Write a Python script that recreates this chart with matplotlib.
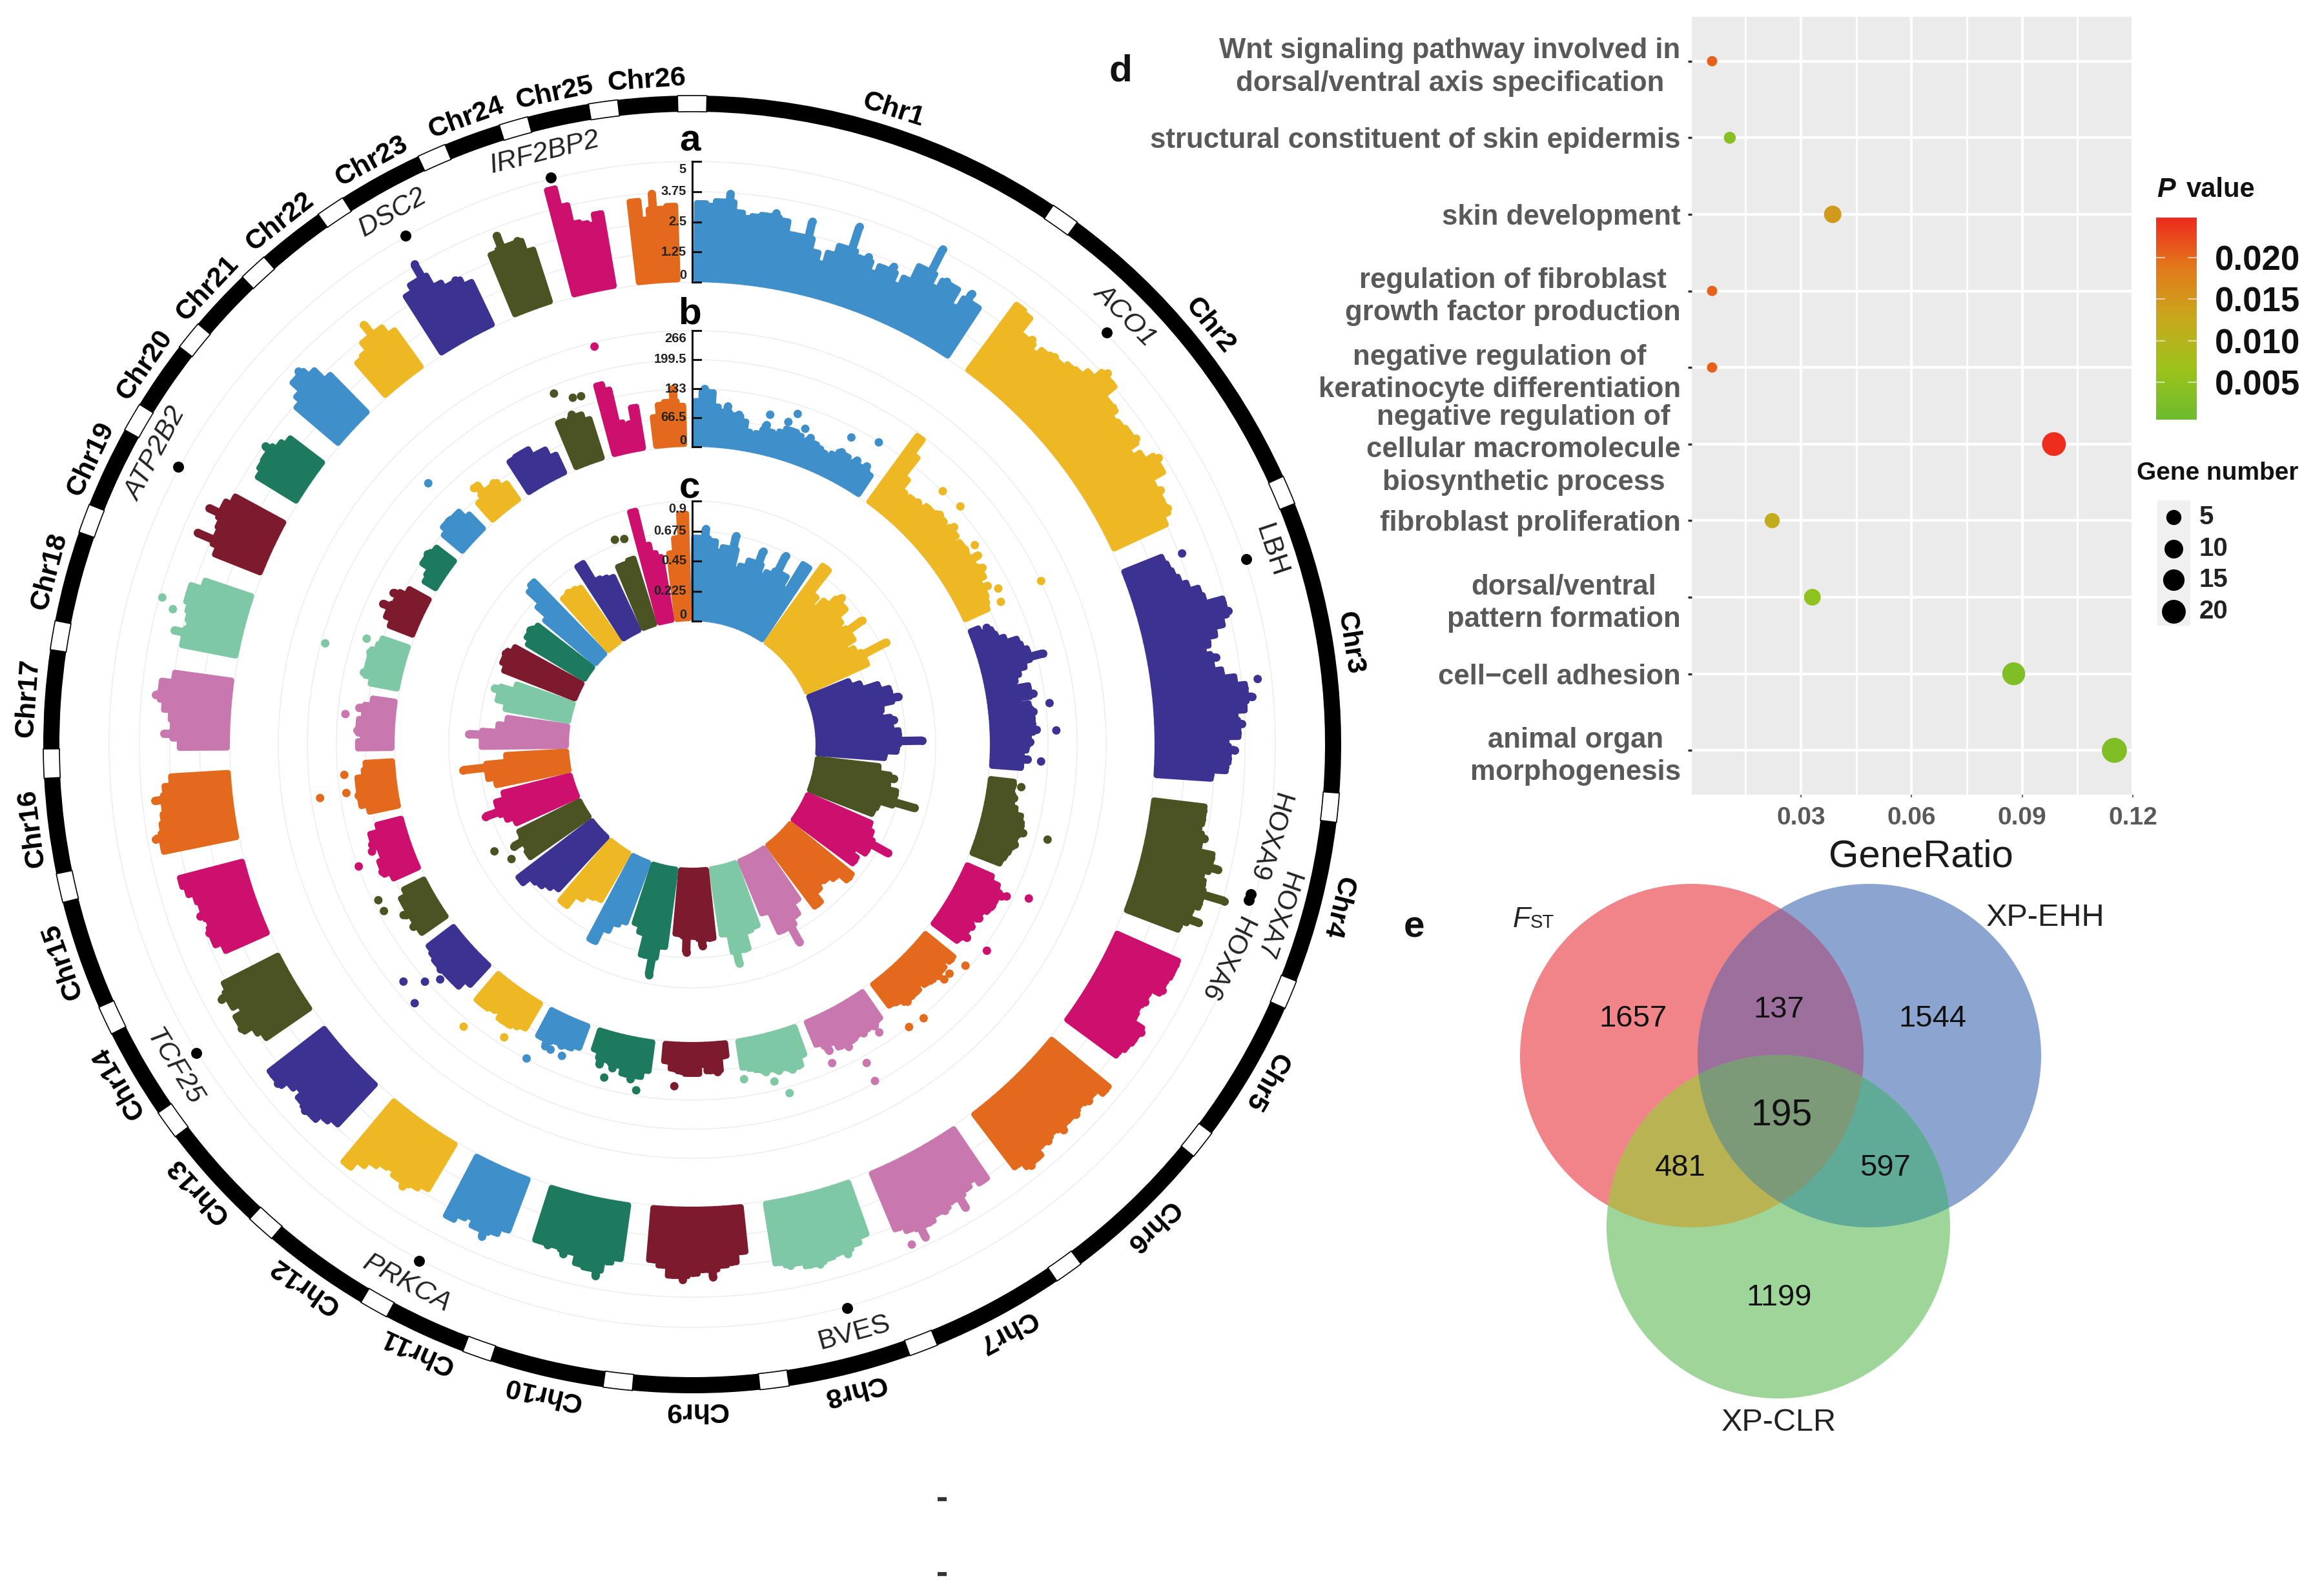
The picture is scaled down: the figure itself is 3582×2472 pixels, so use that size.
import numpy as np
import matplotlib
matplotlib.use('Agg')
import matplotlib.pyplot as plt
from matplotlib.colors import LinearSegmentedColormap
from matplotlib.patches import Circle, Polygon, Rectangle

plt.rcParams['font.family'] = ['Liberation Sans', 'DejaVu Sans']

W, H = 3582, 2472
CX, CY = 1072, 1153   # centre of the circular plot, in pixels

chr_names = ['Chr%d' % i for i in range(1, 27)]
# angle (deg clockwise from top) of the white block closing each chromosome
chr_ends = [35.1, 66.9, 95.6, 112.7, 128.1, 144.5, 159.1, 172.7, 186.6, 199.4, 209.4, 221.7, 234.1,
            244.8, 257.2, 268.3, 279.7, 290.4, 300.3, 309.1, 317.4, 326.1, 336.3, 344.0, 352.1, 360.0]
palette = ['#3F8FCB', '#EDB823', '#3C3291', '#4B5323', '#CD0F6D', '#E36A1C', '#C878AE', '#7FC8A6', '#7E1A2E', '#1E7A5E']

# peak heights per chromosome, percent of the track's axis maximum
track_a = [
    [68, 66, 70, 78, 62, 58, 60, 62, 66, 60, 50, 50, 65, 40, 32, 42, 50, 71, 46, 50, 38, 45, 50, 36, 44, 58, 80, 48, 58, 56, 42, 60, 52],
    [72, 70, 55, 58, 50, 56, 60, 58, 62, 64, 70, 82, 78, 66, 67, 60, 62, 64, 67, 55, 62, 74, 70, 58, 62, 58, 60, 52],
    [38, 40, 42, 45, 50, 58, 60, 75, 78, 70, 62, 55, 50, 60, 55, 62, 72, 80, 86, 78, 70, 76, 72, 62, 70, 64, 62, 50],
    [47, 47, 45, 52, 48, 60, 68, 55, 58, 80, 60, 55, 65, 50],
    [60, 60, 58, 60, 50, 52, 48, 50, 62, 60, 58, 55],
    [66, 60, 62, 58, 62, 60, 64, 58, 62, 60, 66, 68, 60],
    [54, 48, 52, 66, 55, 60, 58, 62, 72, 60, 55],
    [50, 55, 62, 58, 60, 64, 62, 58, 60, 55],
    [42, 50, 52, 62, 55, 58, 64, 60, 52, 48],
    [50, 54, 68, 62, 60, 52, 56, 50, 52, 50],
    [50, 56, 64, 58, 52, 55, 60],
    [48, 52, 58, 54, 50, 52, 56, 62, 70],
    [50, 54, 60, 62, 58, 52, 56, 64, 62],
    [48, 52, 62, 60, 52, 58, 64, 55],
    [42, 48, 50, 46, 52, 48, 50, 55, 58],
    [66, 72, 64, 62, 60, 68, 58, 52],
    [44, 58, 50, 52, 58, 67, 62, 52],
    [50, 60, 48, 50, 52, 55, 55, 45],
    [45, 66, 50, 52, 66, 55, 50],
    [42, 45, 46, 52, 42, 38],
    [50, 56, 66, 70, 60, 48],
    [40, 42, 50, 62, 50, 42],
    [60, 66, 80, 55, 50, 52, 44],
    [58, 72, 60, 62, 50],
    [94, 78, 62, 60, 58, 66],
    [72, 56, 78, 64, 66],
]
track_b = [
    [42, 54, 50, 38, 34, 40, 32, 34, 28, 20, 18, 20, 30, 24, 22, 26, 30, 30, 28, 24, 30, 26, 24, 22, 20, 24, 30, 28, 24, 30, 26, 30, 24],
    [75, 60, 40, 30, 28, 30, 32, 30, 34, 34, 38, 36, 32, 40, 36, 30, 35, 36, 34, 42, 34, 40, 36, 30, 36, 30, 28, 26],
    [12, 22, 24, 30, 40, 42, 46, 59, 40, 34, 30, 28, 40, 44, 30, 38, 42, 40, 40, 44, 36, 38, 34, 30, 36, 30],
    [25, 24, 28, 26, 30, 36, 38, 42, 36, 38, 34, 32, 30],
    [28, 36, 44, 40, 40, 38, 34, 36, 30, 34, 32, 36, 30],
    [36, 32, 36, 38, 36, 34, 30, 34, 34, 36, 30, 28],
    [32, 36, 34, 36, 34, 36, 40, 36, 30, 36, 26],
    [30, 38, 40, 36, 38, 34, 36, 32, 30, 28],
    [16, 30, 28, 22, 30, 30, 28, 26, 20],
    [30, 36, 40, 36, 30, 34, 28, 34, 22],
    [25, 28, 30, 28, 36, 30],
    [30, 30, 35, 35, 30, 32, 34, 34],
    [28, 36, 36, 36, 38, 36, 34, 32],
    [30, 34, 30, 34, 30, 30, 24],
    [28, 36, 34, 30, 30, 36, 34, 26],
    [30, 36, 38, 36, 36, 30, 28],
    [34, 30, 36, 34, 30, 36, 24],
    [28, 37, 34, 34, 36, 30, 28],
    [26, 32, 40, 30, 36, 24],
    [16, 18, 26, 28, 24],
    [26, 31, 32, 30, 30, 22],
    [24, 37, 28, 30, 22],
    [36, 37, 37, 30, 30, 22],
    [46, 44, 50, 46, 40],
    [66, 60, 30, 24, 28, 41],
    [30, 40, 42, 54, 38],
]
track_c = [
    [72, 81, 70, 62, 66, 78, 50, 54, 60, 72, 52, 56, 76, 60, 50, 76],
    [84, 60, 52, 62, 75, 70, 60, 56, 76, 60, 50, 56, 83, 60],
    [40, 48, 62, 70, 77, 60, 58, 70, 66, 72, 92, 70, 60],
    [56, 71, 66, 74, 93, 62, 60],
    [62, 66, 87, 70, 60, 66],
    [71, 62, 58, 56, 60, 69],
    [56, 66, 88, 72, 52],
    [60, 62, 76, 87, 60],
    [62, 69, 60, 74, 58],
    [70, 96, 80, 62, 56],
    [58, 62, 70, 83],
    [50, 52, 58, 70],
    [64, 68, 72, 74, 82],
    [64, 62, 72, 61],
    [60, 66, 83, 70, 62],
    [66, 72, 93, 55],
    [75, 87, 62, 55],
    [58, 66, 72, 54],
    [68, 72, 74, 68],
    [60, 64, 66, 62],
    [60, 72, 86, 89],
    [62, 64, 62, 60],
    [76, 58, 56, 54],
    [60, 60, 62],
    [100, 70, 62, 58],
    [60, 72, 92],
]
# detached points: angle in degrees, height in percent of axis maximum
a_dot_theta = [68.7, 83.4, 285.5, 284.6, 156.3]
a_dot_pct = [56, 92, 76, 65, 73]
b_dot_theta = [13.3, 16.6, 17.7, 19.7, 27.4, 31.7, 44.7, 48.4, 54.8, 63.0, 64.9, 65.2, 68.4, 83.4, 87.8, 92.8,
               97.4, 105.0, 114.6, 115.8, 125.0, 129.0, 131.7, 133.0, 139.8, 142.5, 147.0, 151.5, 151.3, 156.3,
               164.4, 166.3, 171.2, 183.0, 189.2, 194.8, 202.7, 204.9, 207.8, 211.9, 212.7, 219.0, 227.0, 227.0,
               228.4, 230.6, 239.4, 241.6, 243.6, 249.9, 251.5, 261.8, 262.0, 265.0, 275.0, 285.4, 288.0, 314.7,
               319.6, 338.5, 341.0, 342.3, 346.2]
b_dot_pct = [39, 37, 46, 36, 45, 53, 54, 56, 45, 43, 79, 40, 20, 57, 61, 48,
             33, 64, 66, 48, 57, 50, 44, 44, 56, 54, 43, 77, 60, 47,
             59, 46, 39, 42, 49, 44, 38, 37, 53, 33, 47, 60, 74, 44,
             55, 69, 36, 49, 49, 53, 38, 71, 48, 48, 47, 75, 42, 67,
             37, 72, 63, 62, 100]
c_dot_theta = [339.3, 341.7, 241.6, 237.6]
c_dot_pct = [83, 81, 88, 79]
# inner radius and height of each track, pixels
track_r0 = [716, 461, 191]
track_h = [187, 180, 186]
track_ticks = [['0', '1.25', '2.5', '3.75', '5'], ['0', '66.5', '133', '199.5', '266'], ['0', '0.225', '0.45', '0.675', '0.9']]
track_letters = ['a', 'b', 'c']
letter_y = [219, 487, 756]

genes = ['IRF2BP2', 'DSC2', 'ATP2B2', 'ACO1', 'LBH', 'BVES', 'PRKCA', 'TCF25']
gene_theta = [-14.0, -29.4, -61.6, 45.2, 71.5, 164.6, 207.9, 238.1]
gene_rot = [14, 29.5, 62, -45, -71.5, 15.3, -28, -58]
gene_style = ['italic', 'italic', 'italic', 'italic', 'normal', 'normal', 'italic', 'italic']
hox_genes = ['HOXA9', 'HOXA7', 'HOXA6']
hox_theta = [105.0, 105.6]

# enrichment dot plot
go_terms = ['Wnt signaling pathway involved in\ndorsal/ventral axis specification',
            'structural constituent of skin epidermis', 'skin development',
            'regulation of fibroblast\ngrowth factor production',
            'negative regulation of\nkeratinocyte differentiation',
            'negative regulation of\ncellular macromolecule\nbiosynthetic process',
            'fibroblast proliferation', 'dorsal/ventral\npattern formation',
            'cell\u2212cell adhesion', 'animal organ\nmorphogenesis']
gene_ratio = [0.0059, 0.0107, 0.0386, 0.0059, 0.0059, 0.0986, 0.0222, 0.0331, 0.0877, 0.115]
p_value = [0.0205, 0.004, 0.0145, 0.0205, 0.0205, 0.0245, 0.012, 0.005, 0.003, 0.003]
gene_count = [1, 2, 8, 1, 1, 20, 5, 7, 18, 23]
p_colors = ['#6CBB2E', '#9CC31A', '#C8A81C', '#E27A1B', '#EE2A1E']
size_legend = [5, 10, 15, 20]

# venn diagram
venn_counts = ['1657', '137', '1544', '195', '481', '597', '1199']
venn_xy = [(2529, 1578), (2755, 1564), (2993, 1578), (2759, 1728), (2602, 1809), (2920, 1809), (2755, 2010)]
venn_centres = [(2620, 1635), (2895, 1635), (2754, 1900)]
venn_colors = ['#F08488', '#8CA4D0', '#9ED69A']
venn_pairs = [(0, 1), (0, 2), (1, 2)]
venn_pair_colors = ['#9C6F9C', '#B9B354', '#5FAB97']
venn_triple_color = '#7C9A78'
VENN_R = 266


def dot_size(d_px):
    return (d_px * 0.72) ** 2


def gene_d(n):
    return 10 + 6 * np.sqrt(n)


def venn_region(ids):
    # outline of the convex overlap of the circles in ids
    pts = []
    t = np.linspace(0, 2 * np.pi, 1440, endpoint=False)
    for i in ids:
        x = venn_centres[i][0] + VENN_R * np.cos(t)
        y = venn_centres[i][1] + VENN_R * np.sin(t)
        keep = np.ones_like(t, dtype=bool)
        for j in ids:
            if j != i:
                keep &= np.hypot(x - venn_centres[j][0], y - venn_centres[j][1]) <= VENN_R
        pts.append(np.column_stack([x[keep], y[keep]]))
    pts = np.vstack(pts)
    c = pts.mean(axis=0)
    return pts[np.argsort(np.arctan2(pts[:, 1] - c[1], pts[:, 0] - c[0]))]


fig = plt.figure(figsize=(W / 100, H / 100), dpi=100, facecolor='white')

# circular part, radii are in pixels
RM = 1010
ax = fig.add_axes([(CX - RM) / W, (H - CY - RM) / H, 2 * RM / W, 2 * RM / H], projection='polar')
ax.set_theta_zero_location('N')
ax.set_theta_direction(-1)
ax.set_rlim(0, RM)
ax.set_axis_off()

circle_t = np.linspace(0, 2 * np.pi, 721)
for r0, rh in zip(track_r0, track_h):
    for k in range(5):
        ax.plot(circle_t, np.full(721, r0 + rh * k / 4), color='#EDEDED', lw=1.1, zorder=1)

starts = [0.0] + chr_ends[:-1]
for i, (s, e) in enumerate(zip(starts, chr_ends)):
    ax.bar(np.radians((s + e) / 2), 25, width=np.radians(e - s - 2.6), bottom=980, color='black', lw=0, zorder=3)
    ax.bar(np.radians(e), 25, width=np.radians(2.6), bottom=980, facecolor='white', edgecolor='black', lw=1.2, zorder=3)

dot = 13
stroke = 9
track_margin = [0.3, 0.0, 0.0]
for heights, r0, rh, mg in zip([track_a, track_b, track_c], track_r0, track_h, track_margin):
    for i, vals in enumerate(heights):
        col = palette[i % 10]
        lo = starts[i] + 1.0 + mg
        hi = chr_ends[i] - 1.5 - mg
        if i == 0:
            lo = 0.5
        n = len(vals)
        w = (hi - lo) / n
        th = np.radians(lo + w * (np.arange(n) + 0.5))
        tops = np.array(vals) / 100 * rh
        # columns stand full width only up to what a neighbour also reaches; above that a thin finger
        nb = np.array([max(tops[max(j - 1, 0)], tops[min(j + 1, n - 1)]) for j in range(n)])
        body = np.minimum(tops, nb)
        ax.bar(th, np.maximum(body - stroke, 1), width=np.radians(w), bottom=r0 + stroke / 2, color=col,
               edgecolor=col, lw=stroke * 0.72, joinstyle='round', zorder=2)
        ax.vlines(th, r0 + body * 0.6, r0 + tops - dot / 2, colors=col, lw=dot * 0.72, zorder=2)
        ax.scatter(th, r0 + tops - dot / 2, s=dot_size(dot), color=col, lw=0, zorder=2)

for dth, dpc, r0, rh in zip([a_dot_theta, b_dot_theta, c_dot_theta], [a_dot_pct, b_dot_pct, c_dot_pct], track_r0, track_h):
    chr_idx = np.searchsorted(chr_ends, dth)
    ax.scatter(np.radians(dth), r0 + np.array(dpc) / 100 * rh - dot / 2, s=dot_size(dot),
               c=[palette[k % 10] for k in chr_idx], lw=0, zorder=2)

ax.scatter(np.radians(gene_theta), np.full(len(gene_theta), 905), s=dot_size(17), color='black', lw=0, zorder=4)
ax.scatter(np.radians(hox_theta), np.full(2, 895), s=dot_size(17), color='black', lw=0, zorder=4)

# overlay in image pixels for all the loose text
ov = fig.add_axes([0, 0, 1, 1], facecolor='none')
ov.set_xlim(0, W)
ov.set_ylim(H, 0)
ov.set_axis_off()


def polar_xy(theta, r):
    t = np.radians(theta)
    return CX + r * np.sin(t), CY - r * np.cos(t)


for name, s, e in zip(chr_names, starts, chr_ends):
    mid = (s + e) / 2
    x, y = polar_xy(mid, 1031)
    ov.text(x, y, name, rotation=-mid, rotation_mode='anchor', ha='center', va='center',
            fontsize=31, fontweight='bold', color='black')

for g, t, rot, st in zip(genes, gene_theta, gene_rot, gene_style):
    x, y = polar_xy(t, 945)
    ov.text(x, y, g, rotation=rot, rotation_mode='anchor', ha='center', va='center',
            fontsize=31, style=st, color='#222222')
for g, x, y, rot in zip(hox_genes, [1965, 1977, 1898], [1297, 1418, 1485], [-107, -109, -116]):
    ov.text(x, y, g, rotation=rot, rotation_mode='anchor', ha='center', va='center',
            fontsize=30, color='#222222')

# the bracket axes of tracks a, b, c
for r0, rh, labs, letter, ly in zip(track_r0, track_h, track_ticks, track_letters, letter_y):
    y0, y1 = CY - r0, CY - r0 - rh
    ov.plot([CX, CX], [y0, y1], color='#111111', lw=2.2, zorder=5)
    for k, lab in enumerate(labs):
        yt = y0 - rh * k / 4
        ov.plot([CX, CX + 13], [yt, yt], color='#111111', lw=2.2, zorder=5)
        off = {0: -10, 4: 12}.get(k, 0)
        ov.text(CX - 9, yt + off, lab, ha='right', va='center', fontsize=14.5, fontweight='bold', color='#222222', zorder=5)
    ov.text(CX - 4, ly, letter, ha='center', va='center', fontsize=42, fontweight='bold', color='black', zorder=5)

ov.plot([1452, 1466], [2322, 2322], color='#333333', lw=4.5, solid_capstyle='butt')
ov.plot([1452, 1466], [2438, 2438], color='#333333', lw=4.5, solid_capstyle='butt')

# panel d
axd = fig.add_axes([2620 / W, 1 - 1231 / H, 683 / W, 1205 / H], facecolor='#EBEBEB')
cmap = LinearSegmentedColormap.from_list('pv', p_colors)
ypos = np.arange(len(go_terms))
sc = axd.scatter(gene_ratio, ypos, c=p_value, cmap=cmap, vmin=0.0005, vmax=0.0248,
                 s=[dot_size(gene_d(n)) for n in gene_count], lw=0, zorder=3)
axd.set_xlim(0.0004, 0.12)
axd.set_ylim(9.58, -0.58)
axd.set_yticks(ypos)
axd.set_yticklabels(go_terms, fontsize=31.5, fontweight='bold', color='#595959', multialignment='center', linespacing=1.29)
axd.set_xticks([0.03, 0.06, 0.09, 0.12])
axd.set_xticklabels(['0.03', '0.06', '0.09', '0.12'], fontsize=28, fontweight='bold', color='#595959')
axd.set_xticks([0.015, 0.045, 0.075, 0.105], minor=True)
axd.tick_params(axis='y', length=4.5, width=2.4, color='#333333', pad=8)
axd.tick_params(axis='x', length=3, width=1.5, color='#666666', pad=10)
axd.tick_params(axis='x', which='minor', length=0)
axd.grid(True, which='major', color='white', lw=3)
axd.grid(True, which='minor', axis='x', color='white', lw=2)
axd.set_axisbelow(True)
for sp in axd.spines.values():
    sp.set_visible(False)
ov.text(2975, 1327, 'GeneRatio', ha='center', va='center', fontsize=43, color='#1A1A1A')

# colour bar
cax = fig.add_axes([3339 / W, 1 - 650 / H, 63 / W, 313 / H])
cb = fig.colorbar(sc, cax=cax)
cb.outline.set_visible(False)
cb.set_ticks([0.005, 0.010, 0.015, 0.020])
cb.set_ticklabels(['0.005', '0.010', '0.015', '0.020'])
cax.tick_params(length=0, labelsize=38, pad=20)
for t in cax.get_yticklabels():
    t.set_fontweight('bold')
    t.set_color('#111111')
for v in [0.005, 0.010, 0.015, 0.020]:
    cax.plot([0, 0.2], [v, v], color='white', lw=1.2, alpha=0.7, transform=cax.get_yaxis_transform())
    cax.plot([0.8, 1], [v, v], color='white', lw=1.2, alpha=0.7, transform=cax.get_yaxis_transform())

ov.text(3340, 294, 'P', ha='left', va='center', fontsize=31, fontweight='bold', style='italic', color='#111111')
ov.text(3386, 294, 'value', ha='left', va='center', fontsize=30, fontweight='bold', color='#111111')

# gene number legend
ov.text(3309, 733, 'Gene number', ha='left', va='center', fontsize=28, fontweight='bold', color='#111111')
ov.add_patch(Rectangle((3341, 775), 51, 194, facecolor='#F0F0F0', edgecolor='none'))
for n, yk in zip(size_legend, [801, 850, 898, 947]):
    ov.scatter([3366], [yk], s=dot_size(gene_d(n)), color='black', lw=0, zorder=4)
    ov.text(3406, yk, str(n), ha='left', va='center', fontsize=29, fontweight='bold', color='#222222')

# panel e
for (x, y), col in zip(venn_centres, venn_colors):
    ov.add_patch(Circle((x, y), VENN_R, facecolor=col, edgecolor='none', zorder=2))
for ids, col in zip(venn_pairs, venn_pair_colors):
    ov.add_patch(Polygon(venn_region(ids), closed=True, facecolor=col, edgecolor='none', zorder=3))
ov.add_patch(Polygon(venn_region((0, 1, 2)), closed=True, facecolor=venn_triple_color, edgecolor='none', zorder=4))
for lab, (x, y) in zip(venn_counts, venn_xy):
    size = 41 if lab == '195' else 34
    ov.text(x, y, lab, ha='center', va='center', fontsize=size, color='#111111', zorder=5)
ov.text(2343, 1424, 'F', ha='left', va='center', fontsize=32, style='italic', color='#222222')
ov.text(2370, 1429, 'ST', ha='left', va='center', fontsize=21, color='#222222')
ov.text(3168, 1422, 'XP-EHH', ha='center', va='center', fontsize=35, color='#222222')
ov.text(2755, 2204, 'XP-CLR', ha='center', va='center', fontsize=35, color='#222222')
ov.text(1736, 110, 'd', ha='center', va='center', fontsize=42, fontweight='bold', color='#111111')
ov.text(2190, 1436, 'e', ha='center', va='center', fontsize=42, fontweight='bold', color='#111111')

fig.savefig('out.png', dpi=100)
